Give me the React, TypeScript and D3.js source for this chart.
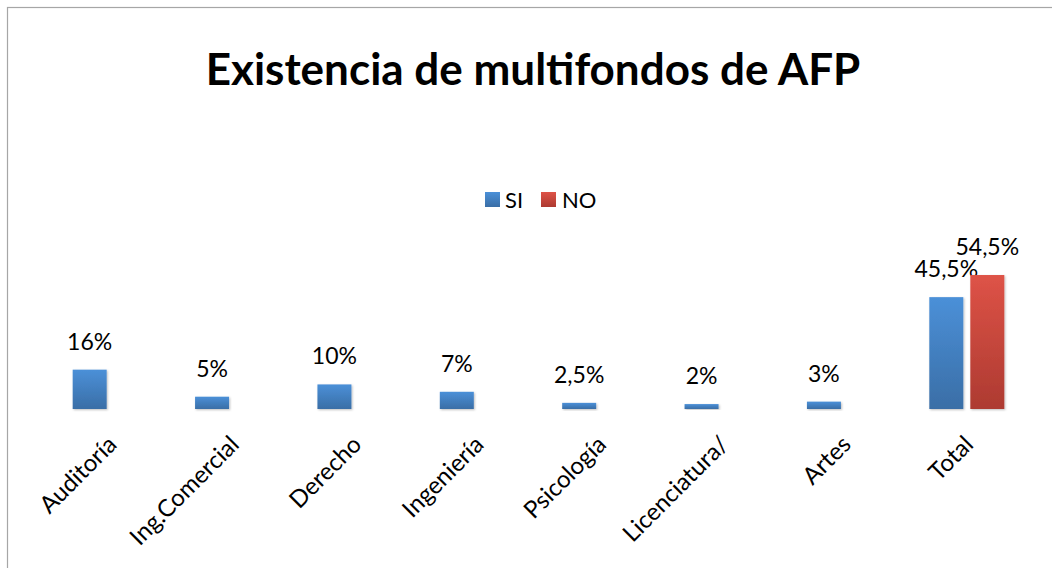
import React from 'react';
import * as d3 from 'd3';

const categories = ['Auditoría', 'Ing.Comercial', 'Derecho', 'Ingeniería', 'Psicología', 'Licenciatura/', 'Artes', 'Total'];
const series = ['SI', 'NO'];
const siValues = [16, 5, 10, 7, 2.5, 2, 3, 45.5];
const noValues: (number | null)[] = [null, null, null, null, null, null, null, 54.5];

const W = 1052;
const H = 568;
const FONT = 'Lato, "Open Sans", sans-serif';

const colors: Record<string, [string, string]> = {
  SI: ['#4b90d8', '#3a6ea6'],
  NO: ['#de5347', '#ad3a31'],
};

const fmt = (v: number) => String(v).replace('.', ',') + '%';

export default function App() {
  const baseline = 409;
  const x0 = d3.scaleBand().domain(categories).range([49, 1028]).paddingInner(0);
  const bw = x0.bandwidth();
  const x1 = d3.scaleBand().domain(series)
    .range([bw / 2 - 37.5, bw / 2 + 37.5]).paddingInner(0.171);
  const y = d3.scaleLinear().domain([0, 60]).range([baseline, 261.5]);

  const rows = categories.map((c, i) => ({ c, SI: siValues[i], NO: noValues[i] }));

  return (
    <div>
      <style>{`body{margin:0}`}</style>
      <svg width={W} height={H} style={{ display: 'block', fontFamily: FONT }}>
        <defs>
          {series.map(s => (
            <linearGradient key={s} id={`grad-${s}`} x1="0" y1="0" x2="0" y2="1">
              <stop offset="0%" stopColor={colors[s][0]} />
              <stop offset="100%" stopColor={colors[s][1]} />
            </linearGradient>
          ))}
          <filter id="shadow" x="-20%" y="-20%" width="140%" height="140%">
            <feDropShadow dx="1" dy="1" stdDeviation="1.2" floodColor="#000" floodOpacity="0.25" />
          </filter>
        </defs>

        <rect x={7.5} y={7.5} width={W + 20} height={H + 20} fill="#fff" stroke="#a6a6a6" strokeWidth={1.2} />

        <text x={533} y={85} textAnchor="middle" fontSize={44} fontWeight={700} fill="#000">
          Existencia de multifondos de AFP
        </text>

        {/* legend */}
        <g fontSize={22} fill="#000">
          <rect x={485} y={192} width={15} height={15} fill="url(#grad-SI)" />
          <text x={505} y={208}>SI</text>
          <rect x={541} y={192} width={15} height={15} fill="url(#grad-NO)" />
          <text x={562} y={208}>NO</text>
        </g>

        {/* axis line */}
        <line x1={49} x2={1028} y1={baseline} y2={baseline} stroke="#a6a6a6" strokeWidth={2} filter="url(#shadow)" />

        {/* bars */}
        {rows.map(r => (
          <g key={r.c} transform={`translate(${x0(r.c)},0)`}>
            {series.map(s => {
              const v = (r as any)[s] as number | null;
              if (v == null) return null;
              const bx = x1(s) as number;
              return (
                <g key={s}>
                  <rect x={bx} y={y(v)} width={x1.bandwidth()} height={baseline - y(v)}
                    fill={`url(#grad-${s})`} filter="url(#shadow)" />
                  <text x={bx + x1.bandwidth() / 2} y={y(v) - 20} textAnchor="middle" fontSize={23} fill="#000">
                    {fmt(v)}
                  </text>
                </g>
              );
            })}
          </g>
        ))}

        {/* category labels */}
        {categories.map(c => {
          const cx = (x0(c) as number) + bw / 2;
          return (
            <text key={c} transform={`translate(${cx + 8},446) rotate(-45)`} textAnchor="end" fontSize={24} fill="#000">
              {c}
            </text>
          );
        })}
      </svg>
    </div>
  );
}
